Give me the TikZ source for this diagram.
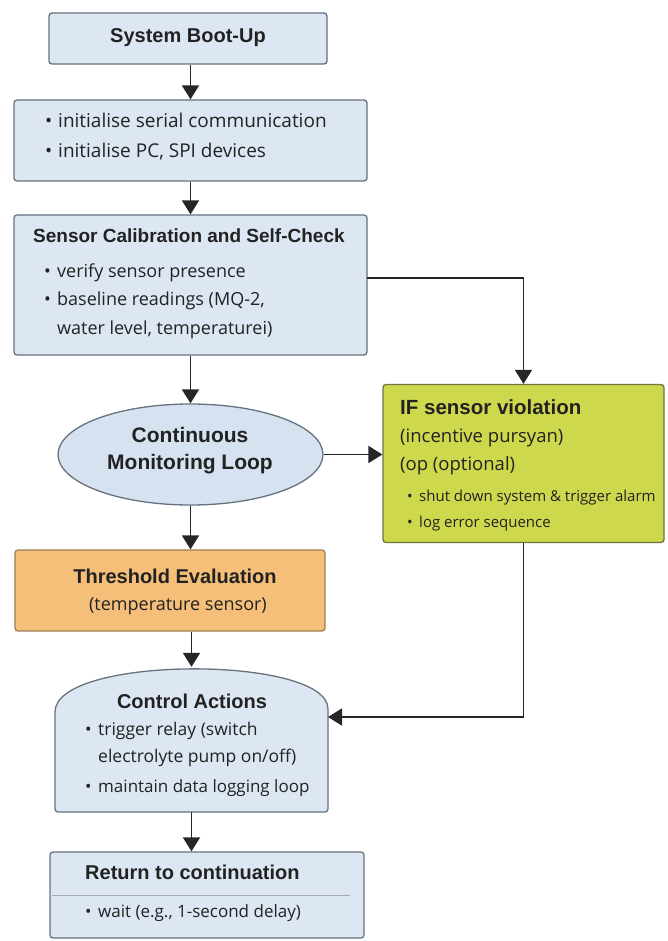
\documentclass[tikz,border=0pt]{standalone}
\usepackage{fontspec}
\setmainfont{Open Sans}
\newfontfamily\hd{Liberation Sans}
\usetikzlibrary{arrows.meta,shapes.geometric}
\definecolor{bluefill}{HTML}{DDE7F3}
\definecolor{bluedraw}{HTML}{66727F}
\definecolor{ellfill}{HTML}{D6E2F0}
\definecolor{iffill}{HTML}{CDD84C}
\definecolor{ifdraw}{HTML}{6F7440}
\definecolor{orfill}{HTML}{F5BF7A}
\definecolor{ordraw}{HTML}{9C7F55}
\definecolor{txt}{HTML}{222222}
\definecolor{lin}{HTML}{262626}
\newcommand{\bl}{\makebox[13pt][l]{•}}
\newcommand{\fs}[1]{\fontsize{#1}{#1}\selectfont}
\tikzset{
  x=1pt,y=-1pt,
  boxa/.style={draw=bluedraw,fill=bluefill,line width=1.3pt,rounded corners=3pt,minimum width=#1,inner sep=0pt},
  ttl/.style={font=\hd\bfseries\fs{20},text=txt,inner sep=0pt},
  bod/.style={font=\fs{18},text=txt,inner sep=0pt,anchor=mid west},
  sml/.style={font=\fs{15},text=txt,inner sep=0pt,anchor=mid west},
  arr/.style={draw=lin,line width=1.8pt,-{Triangle[width=17pt,length=14pt]}},
}
\begin{document}
\begin{tikzpicture}
\useasboundingbox[fill=white] (0,0) rectangle (668,941);
% boxes
\node[boxa=278pt,minimum height=51pt] (b1) at (188,38.5) {};
\node[boxa=353pt,minimum height=81pt] (b2) at (190.5,140.5) {};
\node[boxa=353pt,minimum height=140pt] (b3) at (190.5,285) {};
\node[ellipse,draw=bluedraw,fill=ellfill,line width=1.3pt,minimum width=265pt,minimum height=101pt,inner sep=0pt] (el) at (190.5,454.5) {};
\node[draw=ifdraw,fill=iffill,line width=1.3pt,rounded corners=3pt,minimum width=281pt,minimum height=158pt,inner sep=0pt] (ifb) at (523.5,463.5) {};
\node[draw=ordraw,fill=orfill,line width=1.3pt,rounded corners=3pt,minimum width=310pt,minimum height=81pt,inner sep=0pt] (th) at (170,590.5) {};
% control actions shape
\draw[draw=bluedraw,fill=bluefill,line width=1.3pt,rounded corners=3pt] (55,712) -- (55,812) -- (328,812) -- (328,712) [sharp corners] .. controls (328,655) and (55,655) .. (55,712) -- cycle;
\node[minimum width=273pt,minimum height=145pt,inner sep=0pt] (ca) at (191.5,739.5) {};
\node[boxa=314pt,minimum height=86pt] (rt) at (207,895) {};
\draw[draw=bluedraw!60,line width=0.8pt] (52,895) -- (350,895);
% texts
\node[ttl] at (188,38) {System Boot-Up};
\node[bod,font=\fs{19}] at (45,125) {\bl initialise serial communication};
\node[bod,font=\fs{19}] at (45,155) {\bl initialise PC, SPI devices};
\node[ttl,anchor=mid west,font=\hd\bfseries\fs{19}] at (33,240) {Sensor Calibration and Self-Check};
\node[bod] at (44,275) {\bl verify sensor presence};
\node[bod] at (44,303) {\bl baseline readings (MQ-2,};
\node[bod] at (57,332) {water level, temperaturei)};
\node[ttl,font=\hd\bfseries\fs{21}] at (190,435) {Continuous};
\node[ttl,font=\hd\bfseries\fs{21}] at (190,464) {Monitoring Loop};
\node[ttl,anchor=mid west,font=\hd\bfseries\fs{20.5}] at (400,412) {IF sensor violation};
\node[bod,font=\fs{18.5}] at (400,440) {(incentive pursyan)};
\node[bod,font=\fs{18.5}] at (400,468) {(op (optional)};
\node[sml] at (407,499) {\makebox[12pt][l]{•}shut down system \& trigger alarm};
\node[sml] at (407,525) {\makebox[12pt][l]{•}log error sequence};
\node[ttl] at (175,576) {Threshold Evaluation};
\node[bod,anchor=mid] at (178,608) {(temperature sensor)};
\node[ttl] at (192,701) {Control Actions};
\node[bod,font=\fs{17.5}] at (85,733) {\bl trigger relay (switch};
\node[bod,font=\fs{17.5}] at (98,760) {electrolyte pump on/off)};
\node[bod,font=\fs{17}] at (85,790) {\bl maintain data logging loop};
\node[ttl,anchor=mid west] at (85,877) {Return to continuation};
\node[bod,font=\fs{17}] at (85,915) {\bl wait (e.g., 1-second delay)};
% connectors
\coordinate (b3r) at (367,278);
\coordinate (car) at (328,717);
\draw[arr] (b1.south -| b2.north) -- (b2.north);
\draw[arr] (b2) -- (b3);
\draw[arr] (b3) -- (el);
\draw[arr] (el) -- (el.east -| ifb.west);
\draw[arr] (b3r) -| (ifb.north);
\draw[arr] (el.south) -- (el.south |- th.north);
\draw[arr] (th.south -| ca.north) -- (ca.north);
\draw[arr] (ifb.south) |- (car);
\draw[arr] (ca.south) -- (ca.south |- rt.north);
\end{tikzpicture}
\end{document}
